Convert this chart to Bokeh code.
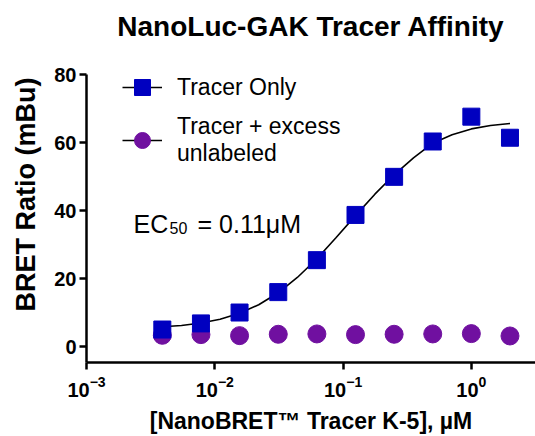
from bokeh.plotting import figure
from bokeh.models import (Range1d, FixedTicker, Label, Legend, LegendItem,
                          LogTickFormatter, Title)
from bokeh.embed import file_html
from bokeh.resources import INLINE

# ---- data ----
conc_uM = [0.0039, 0.0078, 0.0156, 0.03125, 0.0625, 0.125, 0.25, 0.5, 1.0, 2.0]
tracer_only = [5.0, 6.8, 10.0, 16.0, 25.4, 38.7, 49.9, 60.3, 67.6, 61.4]
tracer_excess = [3.3, 3.5, 3.2, 3.6, 3.7, 3.5, 3.6, 3.7, 3.8, 3.1]

# fitted curve, points
fit_x = [0.0039, 0.0055, 0.0078, 0.011, 0.0156, 0.022, 0.03125, 0.044, 0.0625,
         0.088, 0.125, 0.177, 0.25, 0.354, 0.5, 0.707, 1.0, 1.41, 2.0]
fit_y = [5.8, 6.2, 6.9, 8.0, 9.8, 12.3, 15.8, 20.3, 25.8, 32.0, 38.5, 44.8,
         50.5, 55.5, 59.8, 62.3, 64.0, 65.0, 65.6]

x_ticks = [0.001, 0.01, 0.1, 1.0]
y_ticks = [0, 20, 40, 60, 80]

title_text = "NanoLuc-GAK Tracer Affinity"
x_label = "[NanoBRET\u2122 Tracer K-5], \u00b5M"
y_label = "BRET Ratio (mBu)"
legend_labels = ["Tracer Only", "Tracer + excess\nunlabeled"]

FONT = "Liberation Sans"
BLUE = "#0000C0"
PURPLE = "#7010A0"

p = figure(width=535, height=436, x_axis_type="log",
           x_range=Range1d(0.001, 10 ** 0.5), y_range=Range1d(-4.7, 80),
           output_backend="svg", toolbar_location=None,
           min_border_left=86, min_border_right=0, min_border_top=74,
           min_border_bottom=74)
p.outline_line_color = None
p.xgrid.grid_line_color = None
p.ygrid.grid_line_color = None
p.background_fill_color = "white"
p.border_fill_color = "white"

p.title.text = title_text
p.title.align = "center"
p.title.vertical_align = "bottom"
p.title.text_font = FONT
p.title.text_font_style = "bold"
p.title.text_font_size = "28px"
p.title.text_color = "black"
p.title.standoff = 0

# blank spacer between the frame and the title, lifting the title upward
p.add_layout(Title(text=" ", text_font_size="10px", standoff=20), "above")

circ = p.scatter(conc_uM, tracer_excess, marker="circle", size=18,
                 fill_color=PURPLE, line_color=PURPLE)
curve = p.line(fit_x, fit_y, line_color="black", line_width=1.6)
sq = p.scatter(conc_uM, tracer_only, marker="square", size=17,
               fill_color=BLUE, line_color=BLUE)

for ax in (p.xaxis[0], p.yaxis[0]):
    ax.axis_line_width = 2.5
    ax.axis_line_color = "black"
    ax.major_tick_line_width = 2.5
    ax.major_tick_line_color = "black"
    ax.major_tick_in = 0
    ax.major_tick_out = 7
    ax.minor_tick_line_color = None
    ax.major_label_text_font = FONT
    ax.major_label_text_font_style = "bold"
    ax.major_label_text_font_size = "20px"
    ax.major_label_text_color = "black"

p.xaxis.ticker = FixedTicker(ticks=x_ticks, minor_ticks=[])
p.xaxis.formatter = LogTickFormatter()
p.xaxis.major_label_standoff = 6
p.yaxis.ticker = FixedTicker(ticks=y_ticks, minor_ticks=[])
p.yaxis.major_label_standoff = 3

p.xaxis.axis_label = x_label
p.xaxis.axis_label_text_font = FONT
p.xaxis.axis_label_text_font_style = "bold"
p.xaxis.axis_label_text_font_size = "23px"
p.xaxis.axis_label_text_color = "black"
p.xaxis.axis_label_standoff = 8

# y-axis title, as a side title so it can sit above the frame centre
ytitle = Title(text=y_label, align="right", vertical_align="top", offset=3,
               standoff=18, text_font=FONT, text_font_style="bold",
               text_font_size="27px", text_color="black")
p.add_layout(ytitle, "left")

# EC50 annotation
p.add_layout(Label(x=47, y=139, x_units="screen", y_units="screen", text="EC",
                   text_baseline="alphabetic", text_font=FONT,
                   text_font_size="25px", text_color="black"))
p.add_layout(Label(x=83, y=135, x_units="screen", y_units="screen", text="50",
                   text_baseline="alphabetic", text_font=FONT,
                   text_font_size="16px", text_color="black"))
p.add_layout(Label(x=111, y=139, x_units="screen", y_units="screen",
                   text="= 0.11\u03bcM", text_baseline="alphabetic",
                   text_font=FONT, text_font_size="25px", text_color="black"))

legend = Legend(items=[LegendItem(label=legend_labels[0], renderers=[curve, sq]),
                       LegendItem(label=legend_labels[1], renderers=[curve, circ])],
                location=(36, 195), orientation="vertical",
                background_fill_alpha=0, border_line_color=None,
                padding=0, margin=0, spacing=5,
                glyph_width=40, glyph_height=42, label_standoff=15,
                label_text_font=FONT, label_text_font_size="23px",
                label_text_line_height=0.95,
                label_text_color="black", label_height=22)
p.add_layout(legend)

open("out.html", "w").write(file_html(p, INLINE))
